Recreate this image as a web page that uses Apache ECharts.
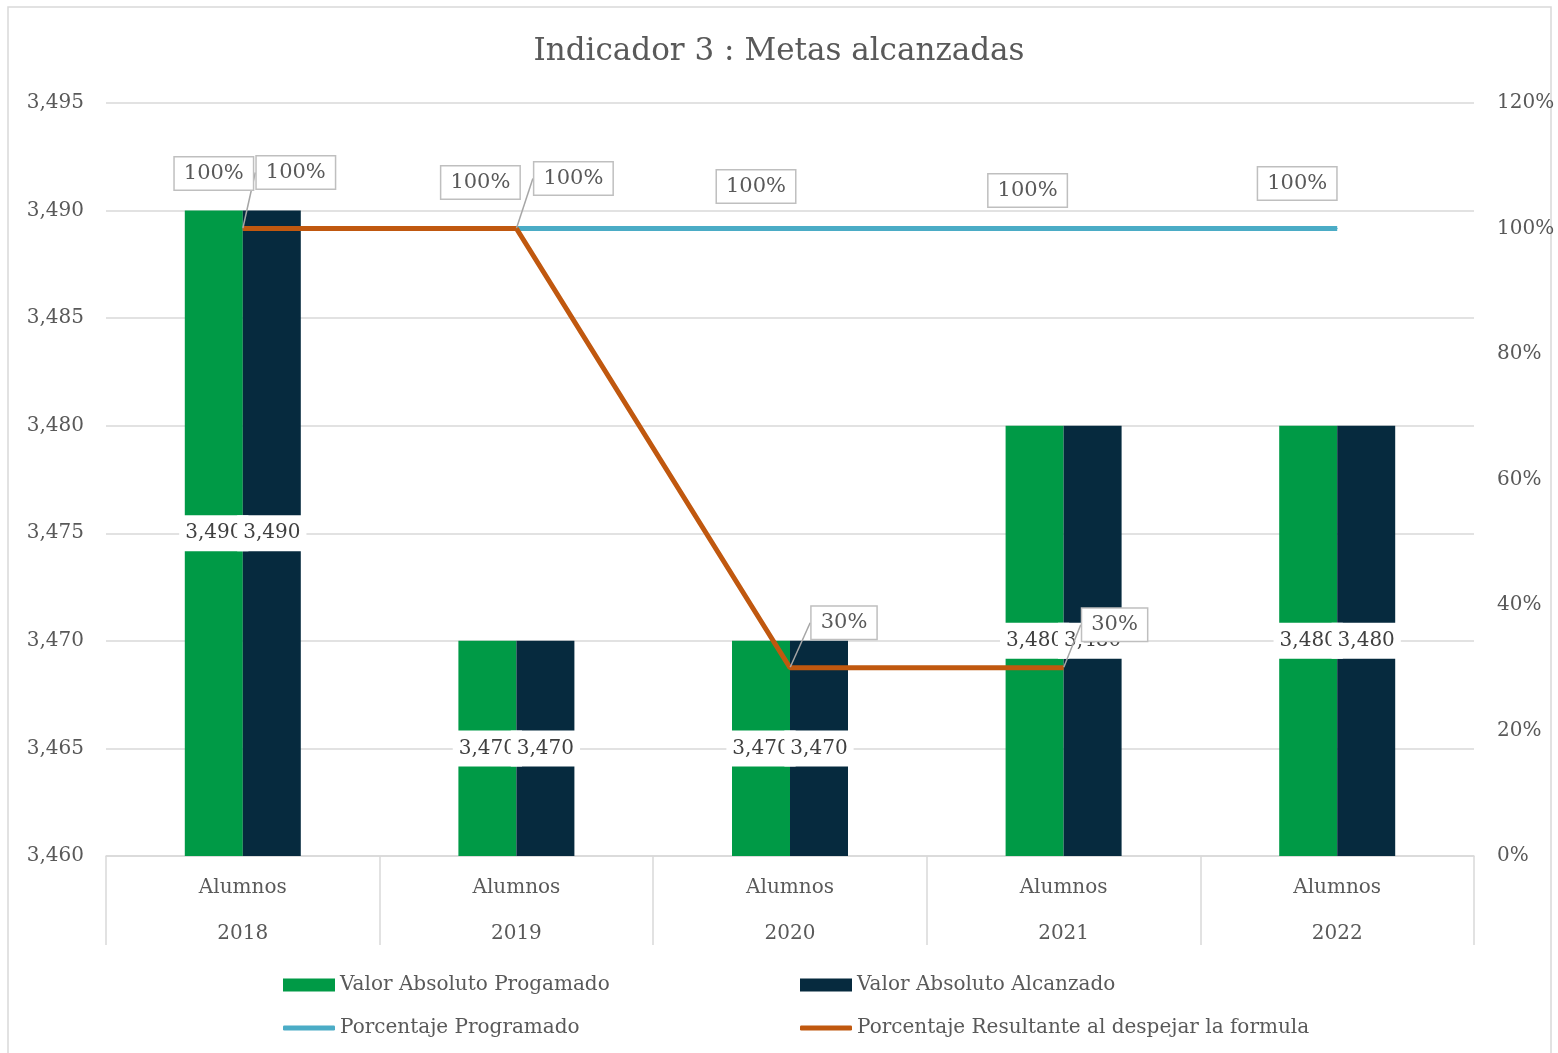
<!DOCTYPE html>
<html>
<head>
<meta charset="utf-8">
<script src="https://cdn.jsdelivr.net/npm/echarts@6/dist/echarts.min.js"></script>
<style>
  html, body { margin: 0; padding: 0; background: #fff; }
  #main { width: 1558px; height: 1053px; }
</style>
</head>
<body>
<div id="main"></div>
<script>
// datos del grafico
var categorias = ['2018', '2019', '2020', '2021', '2022'];
var concepto = 'Alumnos';
var valorProgramado = [3490, 3470, 3470, 3480, 3480];
var valorAlcanzado = [3490, 3470, 3470, 3480, 3480];
var porcProgramado = [100, 100, 100, 100, 100];
var porcResultante = [100, 100, 30, 30, null];
var ticksIzq = [3460, 3495, 5];
var ticksDer = [0, 120, 20];

var fuente = 'DejaVu Serif';
var gris = '#595959';

// desplazamiento de las etiquetas movidas a mano en el original
var despProg = [[-29, -55], [-36, -46], [-34, -42], [-36, -38], [-40, -45]];
var despRes = [[53, -56], [57, -50], [54, -45], [51, -43], [0, 0]];

function miles(v) {
    return String(v).replace(/\B(?=(\d{3})+(?!\d))/g, ',');
}

var etiquetaBarra = {
    show: true,
    position: 'inside',
    fontFamily: fuente,
    fontSize: 20,
    color: '#404040',
    backgroundColor: '#fff',
    padding: [10, 6, 6, 6],
    formatter: function (p) { return miles(p.value); }
};

var etiquetaPorc = {
    show: true,
    position: 'inside',
    fontFamily: fuente,
    fontSize: 21,
    color: gris,
    backgroundColor: '#fff',
    borderColor: '#bfbfbf',
    borderWidth: 1.5,
    padding: [7, 9, 4, 9],
    formatter: function (p) { return p.value + '%'; }
};

var eChart = echarts.init(document.getElementById('main'));

var textoLeyenda = { fontFamily: fuente, fontSize: 20, color: gris };

var option = {
    animation: false,
    color: ['#009a46', '#062a3e', '#4bacc6', '#c0580f'],
    textStyle: { fontFamily: fuente },
    title: {
        text: 'Indicador 3 : Metas alcanzadas',
        left: 'center',
        top: 31,
        textStyle: { fontFamily: fuente, fontSize: 31, fontWeight: 'normal', color: gris }
    },
    graphic: [{
        type: 'rect',
        shape: { x: 8, y: 7, width: 1543, height: 1070 },
        style: { fill: 'none', stroke: '#d9d9d9', lineWidth: 1.5 },
        silent: true
    }],
    legend: [
        { left: 278, top: 970, itemWidth: 52, itemHeight: 13, icon: 'rect',
          data: ['Valor Absoluto Progamado'], textStyle: textoLeyenda },
        { left: 795, top: 970, itemWidth: 52, itemHeight: 13, icon: 'rect',
          data: ['Valor Absoluto Alcanzado'], textStyle: textoLeyenda },
        { left: 278, top: 1013, itemWidth: 52, itemHeight: 5, icon: 'roundRect',
          data: ['Porcentaje Programado'], textStyle: textoLeyenda },
        { left: 795, top: 1013, itemWidth: 52, itemHeight: 5, icon: 'roundRect',
          data: ['Porcentaje Resultante al despejar la formula'], textStyle: textoLeyenda }
    ],
    grid: { left: 106, right: 84, top: 103, bottom: 197 },
    xAxis: [{
        type: 'category',
        data: categorias,
        axisLine: { show: true, lineStyle: { color: '#d9d9d9', width: 1.5 } },
        axisTick: { show: true, interval: 0, alignWithLabel: false, length: 89,
                    lineStyle: { color: '#d9d9d9', width: 1.5 } },
        axisLabel: {
            margin: 9,
            fontFamily: fuente,
            fontSize: 20,
            color: gris,
            lineHeight: 46,
            formatter: function (v) { return concepto + '\n' + v; }
        }
    }],
    yAxis: [{
        type: 'value',
        min: ticksIzq[0],
        max: ticksIzq[1],
        interval: ticksIzq[2],
        axisLine: { show: false },
        axisTick: { show: false },
        splitLine: { lineStyle: { color: '#d9d9d9', width: 1.5 } },
        axisLabel: {
            margin: 22,
            fontFamily: fuente,
            fontSize: 20,
            color: gris,
            formatter: function (v) { return miles(v); }
        }
    }, {
        type: 'value',
        min: ticksDer[0],
        max: ticksDer[1],
        interval: ticksDer[2],
        axisLine: { show: false },
        axisTick: { show: false },
        splitLine: { show: false },
        axisLabel: {
            margin: 23,
            fontFamily: fuente,
            fontSize: 20,
            color: gris,
            formatter: '{value}%'
        }
    }],
    series: [
        {
            name: 'Valor Absoluto Progamado',
            type: 'bar',
            barWidth: 58,
            barGap: '0%',
            data: valorProgramado,
            label: etiquetaBarra
        },
        {
            name: 'Valor Absoluto Alcanzado',
            type: 'bar',
            barWidth: 58,
            barGap: '0%',
            data: valorAlcanzado,
            label: etiquetaBarra
        },
        {
            name: 'Porcentaje Programado',
            type: 'line',
            yAxisIndex: 1,
            data: porcProgramado,
            symbol: 'circle',
            symbolSize: 1,
            lineStyle: { width: 5 },
            label: etiquetaPorc,
            labelLayout: function (p) {
                var d = despProg[p.dataIndex];
                return { dx: d[0], dy: d[1] };
            }
        },
        {
            name: 'Porcentaje Resultante al despejar la formula',
            type: 'line',
            yAxisIndex: 1,
            data: porcResultante,
            symbol: 'circle',
            symbolSize: 1,
            lineStyle: { width: 5 },
            label: etiquetaPorc,
            labelLine: { show: true, lineStyle: { color: '#a6a6a6', width: 1.5 } },
            labelLayout: function (p) {
                var d = despRes[p.dataIndex];
                return { dx: d[0], dy: d[1] };
            }
        }
    ]
};

eChart.setOption(option);
</script>
</body>
</html>
